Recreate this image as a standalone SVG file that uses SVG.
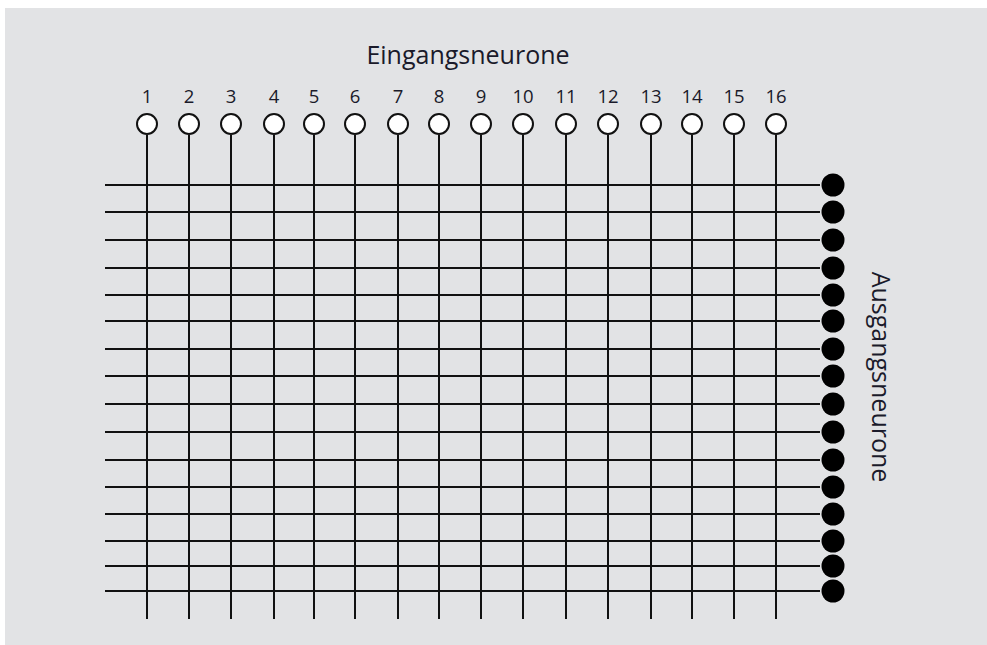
<svg xmlns="http://www.w3.org/2000/svg" width="987" height="645" viewBox="0 0 987 645">
<style>
.bg{fill:#e2e3e5}
.ln{stroke:#111;stroke-width:2;fill:none}
.inp{fill:#fff;stroke:#111;stroke-width:2}
.out{fill:#000}
.num{font-family:"Open Sans","Liberation Sans",sans-serif;font-size:18.5px;fill:#1a1a2a;text-anchor:middle}
.ttl{font-family:"Open Sans","Liberation Sans",sans-serif;font-size:25px;fill:#1a1a2a;text-anchor:middle}
</style>
<rect class="bg" x="5" y="8" width="982" height="637"/>
<text class="ttl" x="468" y="64">Eingangsneurone</text>
<text class="ttl" transform="translate(872,377) rotate(90)">Ausgangsneurone</text>
<g id="connectors">
<path class="ln" d="M147,135V619M189,135V619M231,135V619M274,135V619M314,135V619M355,135V619M398,135V619M439,135V619M481,135V619M523,135V619M566,135V619M608,135V619M651,135V619M692,135V619M734,135V619M776,135V619"/>
<path class="ln" d="M105,185H820M105,212H820M105,240H820M105,268H820M105,295H820M105,321H820M105,349H820M105,376H820M105,404H820M105,432H820M105,460H820M105,487H820M105,514H820M105,541H820M105,566H820M105,591H820"/>
</g>
<g id="in1"><circle class="inp" cx="147" cy="124" r="10"/><text class="num" x="147" y="103">1</text></g>
<g id="in2"><circle class="inp" cx="189" cy="124" r="10"/><text class="num" x="189" y="103">2</text></g>
<g id="in3"><circle class="inp" cx="231" cy="124" r="10"/><text class="num" x="231" y="103">3</text></g>
<g id="in4"><circle class="inp" cx="274" cy="124" r="10"/><text class="num" x="274" y="103">4</text></g>
<g id="in5"><circle class="inp" cx="314" cy="124" r="10"/><text class="num" x="314" y="103">5</text></g>
<g id="in6"><circle class="inp" cx="355" cy="124" r="10"/><text class="num" x="355" y="103">6</text></g>
<g id="in7"><circle class="inp" cx="398" cy="124" r="10"/><text class="num" x="398" y="103">7</text></g>
<g id="in8"><circle class="inp" cx="439" cy="124" r="10"/><text class="num" x="439" y="103">8</text></g>
<g id="in9"><circle class="inp" cx="481" cy="124" r="10"/><text class="num" x="481" y="103">9</text></g>
<g id="in10"><circle class="inp" cx="523" cy="124" r="10"/><text class="num" x="523" y="103">10</text></g>
<g id="in11"><circle class="inp" cx="566" cy="124" r="10"/><text class="num" x="566" y="103">11</text></g>
<g id="in12"><circle class="inp" cx="608" cy="124" r="10"/><text class="num" x="608" y="103">12</text></g>
<g id="in13"><circle class="inp" cx="651" cy="124" r="10"/><text class="num" x="651" y="103">13</text></g>
<g id="in14"><circle class="inp" cx="692" cy="124" r="10"/><text class="num" x="692" y="103">14</text></g>
<g id="in15"><circle class="inp" cx="734" cy="124" r="10"/><text class="num" x="734" y="103">15</text></g>
<g id="in16"><circle class="inp" cx="776" cy="124" r="10"/><text class="num" x="776" y="103">16</text></g>
<g id="out1"><circle class="out" cx="833" cy="185" r="11.5"/></g>
<g id="out2"><circle class="out" cx="833" cy="212" r="11.5"/></g>
<g id="out3"><circle class="out" cx="833" cy="240" r="11.5"/></g>
<g id="out4"><circle class="out" cx="833" cy="268" r="11.5"/></g>
<g id="out5"><circle class="out" cx="833" cy="295" r="11.5"/></g>
<g id="out6"><circle class="out" cx="833" cy="321" r="11.5"/></g>
<g id="out7"><circle class="out" cx="833" cy="349" r="11.5"/></g>
<g id="out8"><circle class="out" cx="833" cy="376" r="11.5"/></g>
<g id="out9"><circle class="out" cx="833" cy="404" r="11.5"/></g>
<g id="out10"><circle class="out" cx="833" cy="432" r="11.5"/></g>
<g id="out11"><circle class="out" cx="833" cy="460" r="11.5"/></g>
<g id="out12"><circle class="out" cx="833" cy="487" r="11.5"/></g>
<g id="out13"><circle class="out" cx="833" cy="514" r="11.5"/></g>
<g id="out14"><circle class="out" cx="833" cy="541" r="11.5"/></g>
<g id="out15"><circle class="out" cx="833" cy="566" r="11.5"/></g>
<g id="out16"><circle class="out" cx="833" cy="591" r="11.5"/></g>
</svg>
